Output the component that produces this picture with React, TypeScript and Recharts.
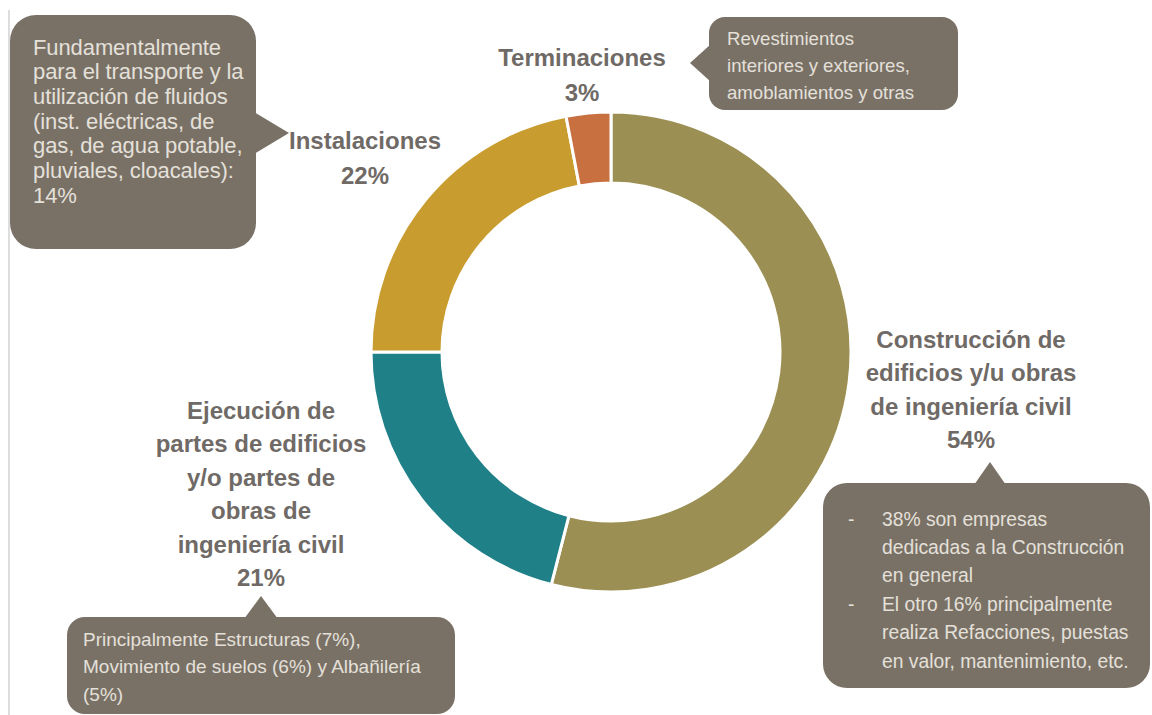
import React from "react";
import { PieChart, Pie, Cell } from "recharts";

const categories = [
  "Construcción de edificios y/u obras de ingeniería civil",
  "Ejecución de partes de edificios y/o partes de obras de ingeniería civil",
  "Instalaciones",
  "Terminaciones",
];
const values = [54, 21, 22, 3];
const colors = ["#9C8F53", "#1F8088", "#C99C2F", "#C8703F"];

const labelLines = [
  ["Construcción de", "edificios y/u obras", "de ingeniería civil"],
  ["Ejecución de", "partes de edificios", "y/o partes de", "obras de", "ingeniería civil"],
  ["Instalaciones"],
  ["Terminaciones"],
];

const noteConstruccion = [
  ["-", "38% son empresas"],
  ["", "dedicadas a la Construcción"],
  ["", "en general"],
  ["-", "El otro  16% principalmente"],
  ["", "realiza Refacciones, puestas"],
  ["", "en valor, mantenimiento, etc."],
];
const noteEjecucion = [
  "Principalmente Estructuras (7%),",
  "Movimiento de suelos (6%) y Albañilería",
  "(5%)",
];
const noteInstalaciones = [
  "Fundamentalmente",
  "para el transporte y la",
  "utilización de fluidos",
  "(inst. eléctricas, de",
  "gas, de agua potable,",
  "pluviales, cloacales):",
  "14%",
];
const noteTerminaciones = [
  "Revestimientos",
  "interiores y exteriores,",
  "amoblamientos y otras",
];

const data = categories.map((name, i) => ({ name, value: values[i] }));

const W = 1152;
const H = 715;
const FONT = "'Liberation Sans', Arial, Helvetica, sans-serif";
const BOX = "#7A7166";
const BOX_TEXT = "#E4E0DA";
const LABEL = "#6F6A66";

// annotation layout
const labelPos = [
  { x: 971, y: 339, step: 33.5 },
  { x: 261, y: 410, step: 33.5 },
  { x: 365, y: 140, step: 35 },
  { x: 582, y: 57, step: 35 },
];

function Label({ idx }: { idx: number }) {
  const p = labelPos[idx];
  const lines = [...labelLines[idx], `${values[idx]}%`];
  return (
    <g>
      {lines.map((t, i) => (
        <text
          key={i}
          x={p.x}
          y={p.y + i * p.step}
          textAnchor="middle"
          dominantBaseline="central"
          fontFamily={FONT}
          fontWeight="bold"
          fontSize={24}
          fill={LABEL}
        >
          {t}
        </text>
      ))}
    </g>
  );
}

export default function App() {
  return (
    <div style={{ position: "relative", width: W, height: H, background: "#fff" }}>
      <style>{"body{margin:0}"}</style>
      <PieChart
        width={W}
        height={H}
        margin={{ top: 0, right: 0, bottom: 0, left: 0 }}
        style={{ position: "absolute", left: 0, top: 0 }}
      >
        <Pie
          data={data}
          dataKey="value"
          nameKey="name"
          cx={611}
          cy={352}
          innerRadius={169}
          outerRadius={240}
          startAngle={90}
          endAngle={-270}
          stroke="#ffffff"
          strokeWidth={3}
          isAnimationActive={false}
          label={false}
          labelLine={false}
        >
          {data.map((d, i) => (
            <Cell key={d.name} fill={colors[i]} />
          ))}
        </Pie>
      </PieChart>
      <svg
        width={W}
        height={H}
        style={{ position: "absolute", left: 0, top: 0, pointerEvents: "none" }}
      >
        <line x1={9} y1={10} x2={9} y2={715} stroke="#D2D2D2" strokeWidth={1.5} />

        {/* Instalaciones callout */}
        <rect x={10} y={15} width={246} height={234} rx={26} fill={BOX} />
        <polygon points="254,112 289,133 254,154" fill={BOX} />
        {noteInstalaciones.map((t, i) => (
          <text key={i} x={33} y={47 + i * 24.7} dominantBaseline="central" fontFamily={FONT} fontSize={22} letterSpacing={-0.1} fill={BOX_TEXT}>
            {t}
          </text>
        ))}

        {/* Terminaciones callout */}
        <rect x={709} y={17} width={249} height={93} rx={16} fill={BOX} />
        <polygon points="711,44 690,63 711,82" fill={BOX} />
        {noteTerminaciones.map((t, i) => (
          <text key={i} x={727} y={38 + i * 27.3} dominantBaseline="central" fontFamily={FONT} fontSize={18.6} fill={BOX_TEXT}>
            {t}
          </text>
        ))}

        {/* Construcción callout */}
        <rect x={823} y={483} width={327} height={205} rx={24} fill={BOX} />
        <polygon points="974,485 990,462 1006,485" fill={BOX} />
        {noteConstruccion.map((t, i) => (
          <g key={i}>
            {t[0] ? (
              <text x={848} y={519 + i * 28.4} dominantBaseline="central" fontFamily={FONT} fontSize={19.3} fill={BOX_TEXT}>
                {t[0]}
              </text>
            ) : null}
            <text x={882} y={519 + i * 28.4} dominantBaseline="central" fontFamily={FONT} fontSize={19.3} fill={BOX_TEXT}>
              {t[1]}
            </text>
          </g>
        ))}

        {/* Ejecución callout */}
        <rect x={67} y={617} width={388} height={97} rx={18} fill={BOX} />
        <polygon points="244,619 261,596 278,619" fill={BOX} />
        {noteEjecucion.map((t, i) => (
          <text key={i} x={83} y={639 + i * 27.5} dominantBaseline="central" fontFamily={FONT} fontSize={19} fill={BOX_TEXT}>
            {t}
          </text>
        ))}

        {categories.map((c, i) => (
          <Label key={c} idx={i} />
        ))}
      </svg>
    </div>
  );
}
